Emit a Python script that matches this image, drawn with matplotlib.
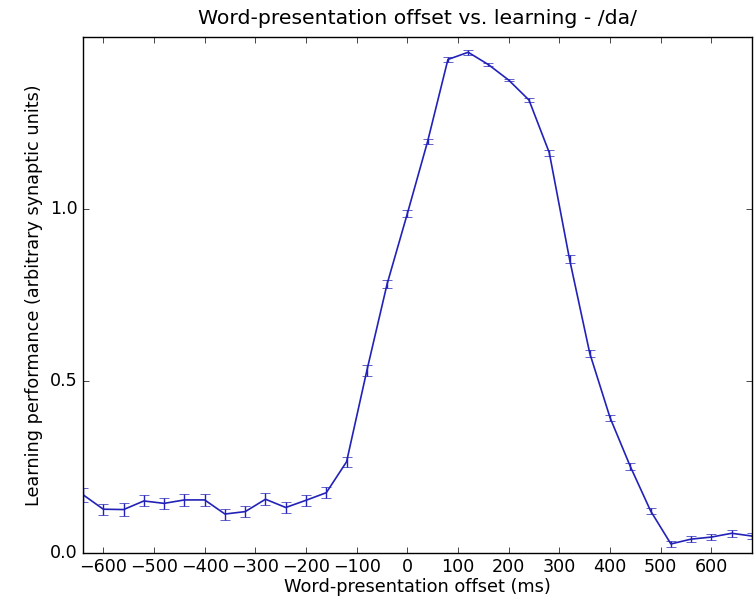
import numpy as np
import matplotlib; matplotlib.use("Agg")
import matplotlib.pyplot as plt

offsets = list(range(-640, 681, 40))
perf = [0.169, 0.127, 0.126, 0.151, 0.144, 0.154, 0.154, 0.113, 0.120, 0.156,
        0.132, 0.153, 0.175, 0.265, 0.530, 0.782, 0.987, 1.197, 1.435, 1.456,
        1.420, 1.375, 1.317, 1.164, 0.854, 0.580, 0.393, 0.251, 0.122, 0.026,
        0.040, 0.046, 0.057, 0.049]
err = [0.020, 0.016, 0.018, 0.016, 0.016, 0.017, 0.017, 0.016, 0.015, 0.018,
       0.016, 0.016, 0.016, 0.014, 0.015, 0.012, 0.011, 0.008, 0.008, 0.008,
       0.005, 0.004, 0.005, 0.009, 0.012, 0.010, 0.009, 0.009, 0.008, 0.008,
       0.009, 0.009, 0.010, 0.008]

plt.style.use("classic")
fig = plt.figure(figsize=(7.55, 5.99), dpi=100, facecolor="white")
ax = fig.add_axes([0.11, 0.077, 0.886, 0.861])
ax.errorbar(offsets, perf, yerr=err, color="#2222b8", lw=1.2, capsize=3.5, elinewidth=1.0)
ax.set_xlim(-640, 680)
ax.set_ylim(0, 1.5)
ax.set_xticks(range(-600, 601, 100))
ax.set_yticks([0.0, 0.5, 1.0])
ax.set_xticklabels(["\u2212600", "\u2212500", "\u2212400", "\u2212300", "\u2212200", "\u2212100",
                    "0", "100", "200", "300", "400", "500", "600"])
ax.tick_params(labelsize=12.6)
ax.set_xlabel("Word-presentation offset (ms)", fontsize=12.8, labelpad=1)
ax.set_ylabel("Learning performance (arbitrary synaptic units)", fontsize=12.7)
ax.set_title("Word-presentation offset vs. learning - /da/", fontsize=14.7, y=1.012)
fig.savefig("out.png", dpi=100, facecolor="white")
